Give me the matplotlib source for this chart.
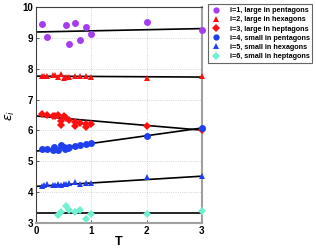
import matplotlib
matplotlib.use("Agg")
import numpy as np
import matplotlib.pyplot as plt

plt.rcParams["font.family"] = ["Liberation Sans", "DejaVu Sans"]

# i=1, large in pentagons
t1 = [0.1, 0.2, 0.55, 0.6, 0.7, 0.8, 0.9, 1.0, 2.0, 3.0]
e1 = [9.45, 9.02, 9.42, 8.81, 9.47, 8.94, 9.34, 9.11, 9.51, 9.26]
# i=2, large in hexagons
t2 = [0.1, 0.15, 0.2, 0.3, 0.35, 0.4, 0.45, 0.5, 0.55, 0.6, 0.7, 0.8, 0.9, 1.0, 2.0, 3.0]
e2 = [7.76, 7.75, 7.76, 7.80, 7.80, 7.74, 7.82, 7.70, 7.72, 7.74, 7.76, 7.78, 7.77, 7.72, 7.69, 7.75]
# i=3, large in heptagons
t3 = [0.1, 0.2, 0.3, 0.35, 0.4, 0.45, 0.45, 0.5, 0.55, 0.6, 0.7, 0.7, 0.8, 0.9, 0.9, 1.0, 2.0, 3.0]
e3 = [6.52, 6.50, 6.48, 6.46, 6.50, 6.31, 6.17, 6.48, 6.42, 6.34, 6.29, 6.14, 6.25, 6.22, 6.10, 6.20, 6.13, 6.02]
# i=4, small in pentagons
t4 = [0.1, 0.2, 0.3, 0.33, 0.4, 0.45, 0.5, 0.52, 0.58, 0.6, 0.7, 0.8, 0.9, 1.0, 2.0, 3.0]
e4 = [5.40, 5.40, 5.37, 5.45, 5.37, 5.53, 5.45, 5.40, 5.42, 5.46, 5.50, 5.52, 5.55, 5.60, 5.83, 6.07]
# i=5, small in hexagons
t5 = [0.1, 0.15, 0.2, 0.3, 0.35, 0.4, 0.45, 0.5, 0.55, 0.6, 0.7, 0.8, 0.9, 1.0, 2.0, 3.0]
e5 = [4.20, 4.22, 4.26, 4.22, 4.25, 4.27, 4.23, 4.28, 4.27, 4.30, 4.34, 4.27, 4.30, 4.30, 4.48, 4.54]
# i=6, small in heptagons
t6 = [0.4, 0.45, 0.55, 0.6, 0.7, 0.8, 0.9, 1.0, 2.0, 3.0]
e6 = [3.25, 3.36, 3.55, 3.41, 3.36, 3.44, 3.13, 3.28, 3.28, 3.40]

# fitted lines (value at T=0, value at T=3)
fits = [(9.19, 9.30), (7.76, 7.73), (6.47, 6.01), (5.33, 6.08), (4.19, 4.52), (3.32, 3.32)]

labels = ["i=1, large in pentagons", "i=2, large in hexagons", "i=3, large in heptagons",
          "i=4, small in pentagons", "i=5, small in hexagons", "i=6, small in heptagons"]
colors = ["#a63cf0", "#ff1010", "#ff1010", "#2040f0", "#2040f0", "#70f0d0"]
markers = ["o", "^", "D", "o", "^", "D"]
sizes = [5, 5, 4, 5, 5, 4]

fig = plt.figure(figsize=(3.16, 2.49), dpi=100)
ax = fig.add_axes([0.114, 0.104, 0.525, 0.868])

series = [(t1, e1), (t2, e2), (t3, e3), (t4, e4), (t5, e5), (t6, e6)]
handles = []
for (t, e), c, m, s, lab in zip(series, colors, markers, sizes, labels):
    h, = ax.plot(t, e, linestyle="none", marker=m, color=c, markersize=s,
                 markeredgewidth=0, label=lab, clip_on=False, zorder=3)
    handles.append(h)

for y0, y3 in fits:
    ax.plot([0, 3], [y0, y3], color="black", linewidth=1.2, zorder=2)

ax.set_xlim(0, 3)
ax.set_ylim(3, 10)
ax.set_xticks([0, 1, 2, 3])
ax.set_yticks([3, 4, 5, 6, 7, 8, 9, 10])
ax.grid(True, color="#c8c8c8", linestyle=":", linewidth=0.6)
ax.tick_params(direction="in", length=2, width=0.6, labelsize=7, pad=2, colors="#404040")
for lab in ax.get_xticklabels() + ax.get_yticklabels():
    lab.set_fontweight("bold")
    lab.set_color("black")
ax.spines["left"].set_color("#404040")
ax.spines["top"].set_color("#404040")
ax.spines["left"].set_linewidth(0.8)
ax.spines["top"].set_linewidth(0.8)
ax.spines["bottom"].set_color("#a0a0a0")
ax.spines["right"].set_color("#a0a0a0")
ax.spines["bottom"].set_linewidth(1.5)
ax.spines["right"].set_linewidth(1.5)

ax.set_xlabel("T", fontsize=9, fontweight="bold", labelpad=0)
ax.set_ylabel(r"$\epsilon_i$", fontsize=9, labelpad=4)

leg = fig.legend(handles=handles, loc="upper left", bbox_to_anchor=(0.658, 0.982),
                 prop={"size": 5.2, "weight": "bold"}, frameon=True, fancybox=False,
                 borderpad=0.35, labelspacing=0.3, handletextpad=1.1, handlelength=1.6,
                 borderaxespad=0, markerscale=0.9)
leg.get_frame().set_edgecolor("#404040")
leg.get_frame().set_linewidth(0.8)

fig.savefig("out.png", dpi=100)
